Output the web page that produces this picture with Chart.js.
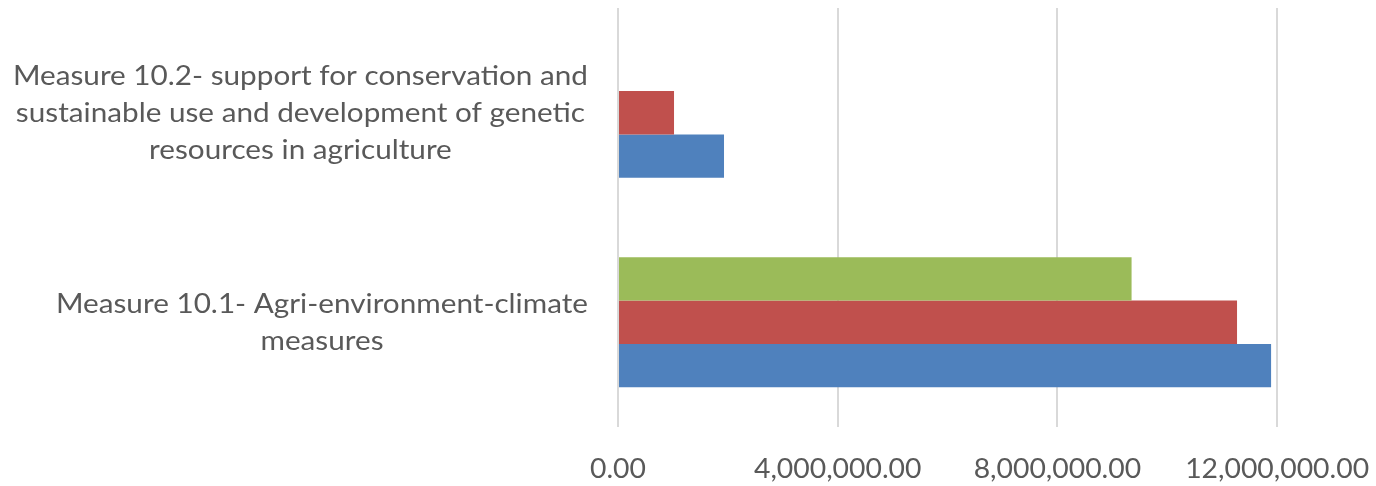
<!DOCTYPE html>
<html>
<head>
<meta charset="utf-8">
<title>Measure 10 payments</title>
<script src="https://cdn.jsdelivr.net/npm/chart.js@4.4.1/dist/chart.umd.min.js"></script>
<style>
  html, body { margin: 0; padding: 0; background: #ffffff; }
  #chart-wrap { width: 1376px; height: 486px; }
</style>
</head>
<body>
<div id="chart-wrap"><canvas id="measure-chart" width="1376" height="486"></canvas></div>
<script>
// Categories, top to bottom as drawn
const categories = [
  ['Measure 10.2- support for conservation and', 'sustainable use and development of genetic', 'resources in agriculture'],
  ['Measure 10.1- Agri-environment-climate', 'measures']
];

// Series values, one entry per category (top bar of each group first)
const seriesGreen = [0, 9350000];
const seriesRed   = [1020000, 11270000];
const seriesBlue  = [1930000, 11890000];

const tickValues = [0, 4000000, 8000000, 12000000];

const FONT = '27px Lato, "Open Sans", sans-serif';
const TEXT = '#595959';
// Lato runs a little narrower than the original Calibri, so widen slightly
const LABEL_STRETCH = 1.1;
const TICK_STRETCH = 1.05;

/**
 * Formats an axis value Excel-style: thousands separators, two decimals.
 */
function formatAmount(v) {
  return v.toLocaleString('en-US', { minimumFractionDigits: 2, maximumFractionDigits: 2 });
}

/**
 * Draws one line of text centered on x, widened by sx.
 */
function drawStretched(ctx, text, x, y, sx) {
  ctx.save();
  ctx.translate(x, y);
  ctx.scale(sx, 1);
  ctx.fillText(text, 0, 0);
  ctx.restore();
}

/**
 * Draws the category labels left of the plot (each block right-aligned to
 * the plot, lines centered within the block) and the value tick labels.
 */
const axisText = {
  id: 'axisText',
  afterDraw(chart) {
    const ctx = chart.ctx;
    const yScale = chart.scales.y;
    const xScale = chart.scales.x;
    const right = chart.chartArea.left - 30;
    const lineH = 37;
    ctx.save();
    ctx.font = FONT;
    ctx.fillStyle = TEXT;
    ctx.textAlign = 'center';
    ctx.textBaseline = 'alphabetic';

    categories.forEach((lines, i) => {
      const cy = yScale.getPixelForTick(i);
      const widest = Math.max(...lines.map(l => ctx.measureText(l).width)) * LABEL_STRETCH;
      const cx = right - widest / 2;
      const y0 = cy - (lines.length - 1) * lineH / 2 + 9;
      lines.forEach((l, j) => drawStretched(ctx, l, cx, y0 + j * lineH, LABEL_STRETCH));
    });

    const baseline = chart.chartArea.bottom + 51;
    xScale.ticks.forEach(t => {
      drawStretched(ctx, formatAmount(t.value), xScale.getPixelForValue(t.value), baseline, TICK_STRETCH);
    });
    ctx.restore();
  }
};

const ctx = document.getElementById('measure-chart').getContext('2d');
const chart = new Chart(ctx, {
  type: 'bar',
  data: {
    labels: categories,
    datasets: [
      { label: 'Series 3', data: seriesGreen, backgroundColor: '#9BBB59' },
      { label: 'Series 2', data: seriesRed,   backgroundColor: '#C0504D' },
      { label: 'Series 1', data: seriesBlue,  backgroundColor: '#4F81BD' }
    ]
  },
  options: {
    indexAxis: 'y',
    responsive: false,
    animation: false,
    devicePixelRatio: 1,
    categoryPercentage: 0.62,
    barPercentage: 1,
    layout: { padding: { top: 8, right: 0, bottom: 0, left: 0 } },
    plugins: {
      legend: { display: false },
      tooltip: { enabled: false }
    },
    scales: {
      x: {
        min: 0,
        max: 13800000,
        afterBuildTicks: scale => { scale.ticks = tickValues.map(v => ({ value: v })); },
        afterFit: scale => { scale.height = 59; },
        grid: { color: '#D9D9D9', lineWidth: 2, drawTicks: false },
        border: { display: false },
        ticks: { display: false }
      },
      y: {
        grid: { display: false },
        border: { display: false },
        ticks: { display: false },
        afterFit: scale => { scale.width = 618; }
      }
    }
  },
  plugins: [axisText]
});
</script>
</body>
</html>
